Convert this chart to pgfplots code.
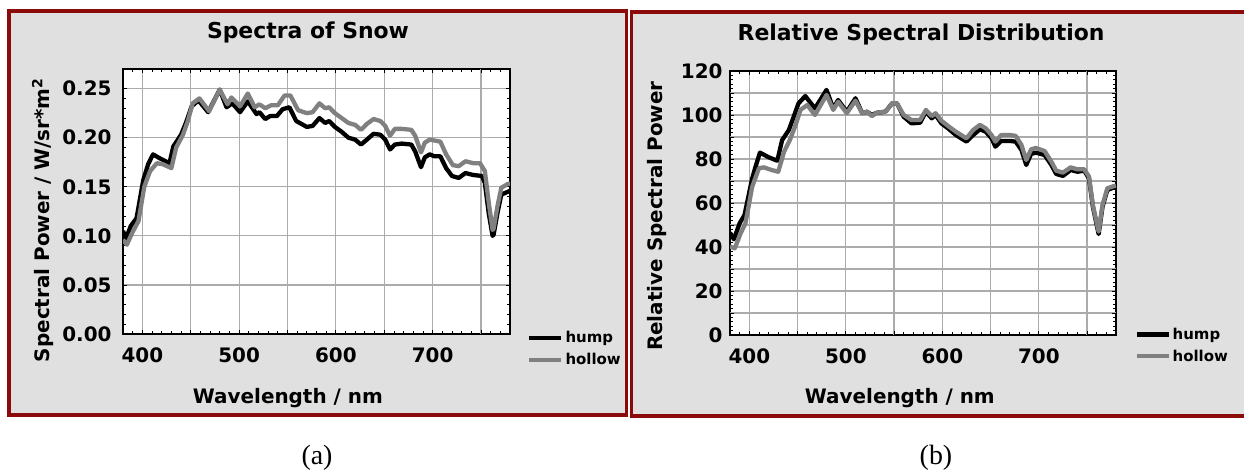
\documentclass[border=0pt]{standalone}
\usepackage{fontspec}
\usepackage{pgfplots}
\pgfplotsset{compat=1.18}
\newfontfamily\cfont{DejaVu Sans}
\newfontfamily\serfont{Liberation Serif}
\definecolor{panelbg}{HTML}{E0E0E0}
\definecolor{panelred}{HTML}{8B0A0A}
\definecolor{hollowgray}{HTML}{808080}
\definecolor{gridgray}{HTML}{ABABAB}

\pgfplotstableread{
lam v
380 0.105
383 0.097
388 0.110
394 0.118
401 0.157
406 0.173
411 0.183
418 0.179
428 0.174
432 0.191
440 0.203
445 0.215
451 0.232
458 0.238
468 0.226
480 0.249
487 0.231
493 0.235
501 0.226
509 0.237
518 0.224
521 0.226
527 0.219
532 0.222
539 0.222
545 0.229
552 0.231
559 0.217
570 0.211
576 0.212
583 0.220
589 0.215
593 0.217
599 0.211
606 0.206
613 0.200
620 0.198
626 0.193
632 0.198
639 0.204
646 0.203
651 0.198
656 0.188
661 0.193
668 0.194
678 0.193
682 0.186
688 0.170
692 0.180
697 0.183
702 0.181
708 0.181
714 0.169
720 0.161
727 0.159
734 0.164
742 0.162
751 0.161
754 0.154
758 0.123
762 0.100
763 0.101
767 0.123
771 0.142
778 0.145
780 0.146
}\humpabs

\pgfplotstableread{
lam v
380 0.096
384 0.091
390 0.104
396 0.115
402 0.150
408 0.166
415 0.174
421 0.173
430 0.169
435 0.190
442 0.203
447 0.217
452 0.235
459 0.240
469 0.227
480 0.249
488 0.234
492 0.241
501 0.232
509 0.245
516 0.231
521 0.234
527 0.230
533 0.233
540 0.233
547 0.243
553 0.243
561 0.228
570 0.225
576 0.226
583 0.235
589 0.230
593 0.231
599 0.225
606 0.220
613 0.215
620 0.213
626 0.208
632 0.214
639 0.219
646 0.217
651 0.212
656 0.202
661 0.209
668 0.209
678 0.208
682 0.202
688 0.185
692 0.195
697 0.198
708 0.196
714 0.183
721 0.172
727 0.171
734 0.176
742 0.174
749 0.174
754 0.166
758 0.134
762 0.106
763 0.107
767 0.130
771 0.149
778 0.153
780 0.153
}\hollowabs

\pgfplotstableread{
lam v
380 46.5
384 43.5
390 50.8
395 54.5
403 71.2
406 75.8
411 82.9
420 80.8
429 79.2
434 88.6
441 93.2
446 99.2
451 105.3
458 108.6
468 103.0
480 111.4
487 103.0
492 106.8
501 101.5
510 107.6
517 100.8
522 101.5
527 100.0
532 101.0
541 101.5
548 105.3
553 105.3
560 99.2
568 96.2
577 96.5
583 101.5
589 98.5
593 100.0
599 96.2
606 93.9
614 90.9
625 87.9
632 90.9
639 93.5
645 92.4
651 89.4
655 85.6
661 88.2
670 88.2
676 87.9
682 84.1
687 77.3
692 82.3
697 82.9
706 81.8
713 77.3
718 73.2
725 72.3
733 75.0
740 74.2
747 74.7
752 71.2
756 58.3
762 45.9
766 58.3
771 65.9
778 67.1
780 67.3
}\humprel

\pgfplotstableread{
lam v
380 40.2
385 39.4
391 46.2
396 50.8
403 67.4
410 75.8
415 76.2
423 75.0
430 74.2
436 83.3
442 88.6
448 95.5
453 102.3
460 104.5
468 100.0
480 109.1
487 102.3
492 106.0
501 100.8
510 106.5
517 100.8
522 101.5
527 99.5
532 101.0
541 101.5
548 105.3
553 105.3
560 100.0
568 97.7
577 97.7
583 102.3
589 99.5
593 100.8
599 97.4
606 95.0
614 92.4
625 89.4
632 93.2
639 95.5
645 93.9
651 90.9
655 87.9
661 90.9
670 90.9
676 90.5
682 86.4
687 79.5
692 84.4
697 85.0
706 83.6
713 78.8
718 74.7
725 73.8
733 76.2
740 75.3
747 75.3
752 72.0
756 59.1
762 47.0
766 59.1
771 66.7
778 67.7
780 67.9
}\hollowrel

\pgfplotsset{
  spec/.style={
    scale only axis,
    axis background/.style={fill=white},
    xmin=380, xmax=780,
    xtick={400,500,600,700},
    minor xtick={380,390,...,780},
    extra x ticks={450,550,650,750},
    extra x tick labels={},
    extra x tick style={grid=major},
    grid=major,
    major grid style={gridgray, line width=1.2bp},
    tick align=inside,
    major tick length=4bp, minor tick length=3bp,
    every tick/.style={black, line width=0.8bp},
    axis line style={black, line width=1.4bp},
    tick label style={font=\cfont\bfseries\fontsize{20}{20}\selectfont},
    /pgf/number format/assume math mode=true,
    label style={font=\cfont\bfseries\fontsize{20}{20}\selectfont},
    title style={font=\cfont\bfseries\fontsize{22}{22}\selectfont, anchor=base, yshift=0pt},
    xticklabel style={yshift=-10bp},
    legend style={draw=none, fill=none, inner sep=0pt, anchor=north west,
      font=\cfont\bfseries\fontsize{15}{15}\selectfont, row sep=5bp,
      /tikz/every even column/.append style={column sep=6bp}},
    legend cell align=left,
    legend image code/.code={\draw[#1] (0bp,0bp) -- (32bp,0bp);},
  },
  hump/.style={black, line width=4.3bp, line join=round},
  hollow/.style={hollowgray, line width=4.3bp, line join=round},
}

\begin{document}
\begin{tikzpicture}[x=1bp, y=1bp]
\path[use as bounding box] (0,0) rectangle (1244,470);
\fill[white] (0,0) rectangle (1244,470);
% panels
\fill[panelbg] (9,459) rectangle (626.7,55);
\draw[panelred, line width=3.5bp] (9,459) rectangle (626.7,55);
\fill[panelbg] (631.5,458) rectangle (1250,54);
\draw[panelred, line width=3.5bp] (1250,458) -- (631.5,458) -- (631.5,54) -- (1250,54);

\begin{axis}[spec,
  at={(123bp,136bp)}, anchor=south west,
  width=387bp, height=265bp,
  ymin=0, ymax=0.27,
  ytick={0,0.05,...,0.25},
  minor y tick num=4,
  scaled y ticks=false,
  yticklabel style={xshift=-8bp, /pgf/number format/.cd, fixed, fixed zerofill, precision=2},
  title={Spectra of Snow},
  title style={at={(axis description cs:0.478,1.094)}},
  xlabel={Wavelength / nm},
  xlabel style={at={(axis description cs:0.426,-0.264)}, anchor=base},
  ylabel={Spectral Power / W/sr*m\textsuperscript{2}},
  ylabel style={at={(axis description cs:-0.189,0.43)}, anchor=base},
  legend style={at={(axis description cs:1.044,0.018)}},
]
\addplot[hump] table[x=lam, y=v] {\humpabs};
\addlegendentry{hump}
\addplot[hollow] table[x=lam, y=v] {\hollowabs};
\addlegendentry{hollow}
\end{axis}

\begin{axis}[spec,
  at={(730bp,135bp)}, anchor=south west,
  width=386bp, height=264bp,
  ymin=0, ymax=120,
  ytick={0,20,...,120},
  minor y tick num=9,
  extra y ticks={10,30,...,110},
  extra y tick labels={},
  extra y tick style={grid=major},
  yticklabel style={xshift=-4bp},
  title={Relative Spectral Distribution},
  title style={at={(axis description cs:0.495,1.094)}},
  xlabel={Wavelength / nm},
  xlabel style={at={(axis description cs:0.44,-0.261)}, anchor=base},
  ylabel={Relative Spectral Power},
  ylabel style={at={(axis description cs:-0.176,0.45)}, anchor=base},
  legend style={at={(axis description cs:1.047,0.035)}},
]
\addplot[hump] table[x=lam, y=v] {\humprel};
\addlegendentry{hump}
\addplot[hollow] table[x=lam, y=v] {\hollowrel};
\addlegendentry{hollow}
\end{axis}

\node[font=\serfont\fontsize{28}{28}\selectfont, anchor=base] at (317,5) {(a)};
\node[font=\serfont\fontsize{28}{28}\selectfont, anchor=base] at (936,5) {(b)};
\end{tikzpicture}
\end{document}
